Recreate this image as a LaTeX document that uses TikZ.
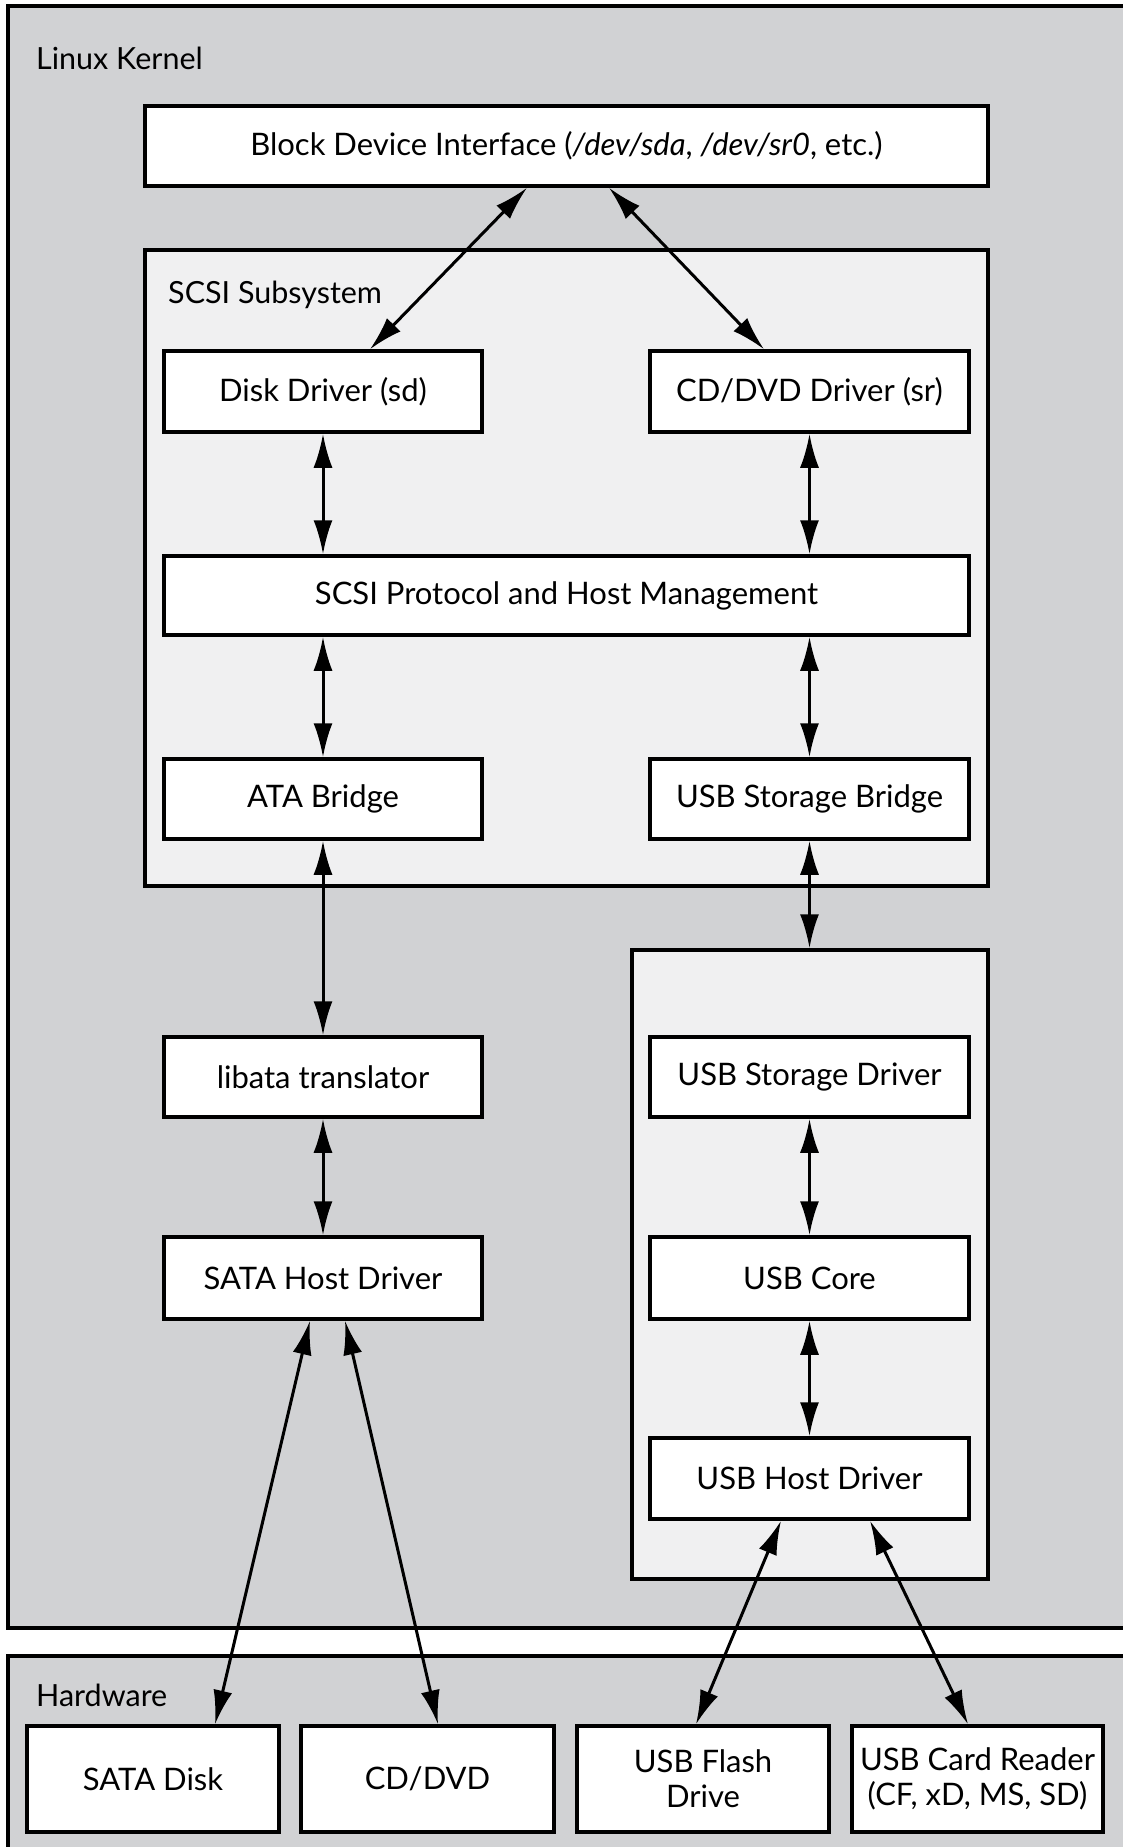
\documentclass[tikz,border=0pt]{standalone}
\usepackage{fontspec}
\setmainfont{Lato}
\usetikzlibrary{arrows.meta}
\definecolor{kgray}{HTML}{D1D2D4}
\definecolor{lgray}{HTML}{F0F0F1}
\tikzset{
  box/.style={draw=black, line width=3.5pt, fill=white, inner sep=0pt, align=center, font=\fontsize{31}{35}\selectfont},
  cont/.style={draw=black, line width=3.5pt, inner sep=0pt},
  lbl/.style={anchor=west, inner sep=0pt, font=\fontsize{30.5}{35}\selectfont},
  arr/.style={line width=3pt, {Latex[length=34pt,width=19pt]}-{Latex[length=34pt,width=19pt]}}
}
\begin{document}
\begin{tikzpicture}[x=1pt,y=-1pt]
\useasboundingbox (0,0) rectangle (1123,1847);
% background containers
\draw[cont, fill=kgray] (8,6) rectangle (1140,1628);
\draw[cont, fill=kgray] (8,1656) rectangle (1140,1870);
\node[lbl] (lk) at (36,58) {Linux Kernel};
\node[lbl] (hw) at (36,1695) {Hardware};
% block device
\node[box, minimum width=843pt, minimum height=80pt] (blk) at (566.5,146)
  {Block Device Interface (\textit{/dev/sda}, \textit{/dev/sr0}, etc.)};
% SCSI subsystem container
\node[cont, fill=lgray, minimum width=843pt, minimum height=636pt] (scsi) at (566.5,568) {};
\node[lbl] (scsil) at (168,295) {SCSI Subsystem};
\node[box, minimum width=318pt, minimum height=81pt] (dd) at (323,391.5) {Disk Driver (sd)};
\node[box, minimum width=319pt, minimum height=81pt] (cd) at (809.5,391.5) {CD/DVD Driver (sr)};
\node[box, minimum width=805pt, minimum height=79pt] (prot) at (566.5,595.5) {SCSI Protocol and Host Management};
\node[box, minimum width=318pt, minimum height=80pt] (ata) at (323,799) {ATA Bridge};
\node[box, minimum width=319pt, minimum height=80pt] (usbb) at (809.5,799) {USB Storage Bridge};
% USB container
\node[cont, fill=lgray, minimum width=356pt, minimum height=629pt] (usbc) at (810,1264.5) {};
\node[box, minimum width=319pt, minimum height=80pt] (usd) at (809.5,1077) {USB Storage Driver};
\node[box, minimum width=319pt, minimum height=82pt] (uc) at (809.5,1278) {USB Core};
\node[box, minimum width=319pt, minimum height=81pt] (uh) at (809.5,1478.5) {USB Host Driver};
% SATA side
\node[box, minimum width=318pt, minimum height=80pt] (lib) at (323,1077) {libata translator};
\node[box, minimum width=318pt, minimum height=82pt] (sh) at (323,1278) {SATA Host Driver};
% hardware
\node[box, minimum width=252pt, minimum height=106pt] (sd) at (153,1779) {SATA Disk};
\node[box, minimum width=253pt, minimum height=106pt] (cdd) at (427.5,1779) {CD/DVD};
\node[box, minimum width=252pt, minimum height=106pt] (fl) at (703,1779) {USB Flash\\Drive};
\node[box, minimum width=251pt, minimum height=106pt] (cr) at (977.5,1779) {USB Card Reader\\(CF, xD, MS, SD)};
% connectors
\draw[arr] ([xshift=-39.5pt]blk.south) -- ([xshift=47pt]dd.north);
\draw[arr] ([xshift=42.5pt]blk.south) -- ([xshift=-45.5pt]cd.north);
\draw[arr] (dd.south) -- (dd.south |- prot.north);
\draw[arr] (cd.south) -- (cd.south |- prot.north);
\draw[arr] (ata.north |- prot.south) -- (ata.north);
\draw[arr] (usbb.north |- prot.south) -- (usbb.north);
\draw[arr] (usbb.south) -- (usbb.south |- usbc.north);
\draw[arr] (ata.south) -- (lib.north);
\draw[arr] (lib.south) -- (sh.north);
\draw[arr] (usd.south) -- (uc.north);
\draw[arr] (uc.south) -- (uh.north);
\draw[arr] ([xshift=-13pt]sh.south) -- ([xshift=62pt]sd.north);
\draw[arr] ([xshift=22pt]sh.south) -- ([xshift=10.5pt]cdd.north);
\draw[arr] ([xshift=-28.5pt]uh.south) -- ([xshift=-7pt]fl.north);
\draw[arr] ([xshift=60.5pt]uh.south) -- ([xshift=-9.5pt]cr.north);
\end{tikzpicture}
\end{document}
